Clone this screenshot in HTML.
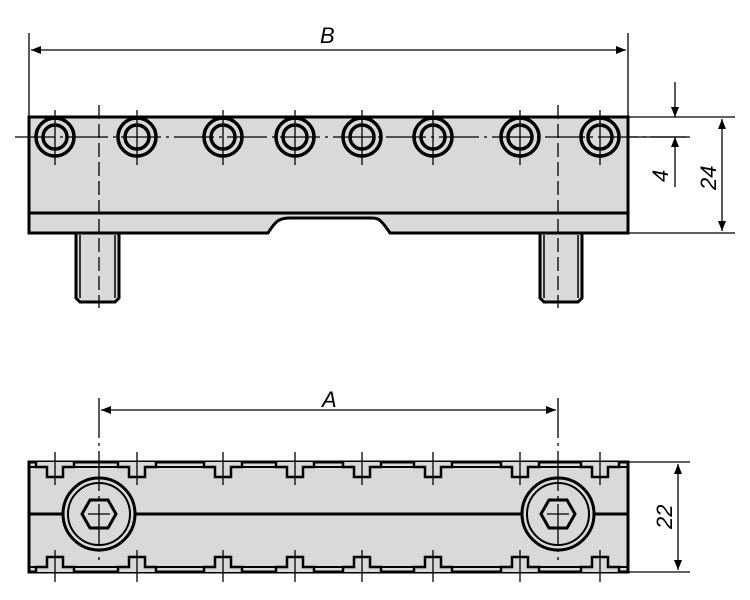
<!DOCTYPE html>
<html><head><style>body{margin:0;background:#fff}svg{display:block}text{font-family:"Liberation Sans",sans-serif;font-style:italic;font-size:22px;fill:#000}</style></head>
<body>
<svg width="750" height="600" viewBox="0 0 750 600" xmlns="http://www.w3.org/2000/svg">
<defs>
<marker id="ar" viewBox="0 0 10 10" refX="10" refY="5" markerWidth="14" markerHeight="10" markerUnits="userSpaceOnUse" orient="auto-start-reverse"><path d="M0,1 L10,5 L0,9z" fill="#000"/></marker>
<g id="slot" fill="#d9d9d9" stroke="#000" stroke-width="2.5">
<path d="M-19,462 V467 H-8 V477 H8 V467 H19 V462"/>
<path d="M-19,572 V567 H-8 V557 H8 V567 H19 V572"/>
</g>
</defs>
<!-- TOP VIEW -->
<g stroke="#000" stroke-width="3" fill="#d9d9d9">
<path d="M76,233 V298 L80,302 H115 L119,298 V233"/>
<path d="M540,233 V298 L544,302 H578 L582,298 V233"/>
</g>
<g stroke="#000" stroke-width="1.5">
<line x1="80" y1="235" x2="80" y2="298"/><line x1="115" y1="235" x2="115" y2="298"/>
<line x1="544" y1="235" x2="544" y2="298"/><line x1="578" y1="235" x2="578" y2="298"/>
</g>
<path d="M29,117 H628 V233 H390 C380,218 378,218 370,218 H290 C280,218 276,220 268,233 H29 Z" fill="#d9d9d9" stroke="#000" stroke-width="3"/>
<line x1="29" y1="213" x2="628" y2="213" stroke="#000" stroke-width="3"/>
<g fill="none" stroke="#000" stroke-width="3.5">
<circle cx="55" cy="137" r="19"/><circle cx="55" cy="137" r="12"/>
<circle cx="137" cy="137" r="19"/><circle cx="137" cy="137" r="12"/>
<circle cx="223" cy="137" r="19"/><circle cx="223" cy="137" r="12"/>
<circle cx="295" cy="137" r="19"/><circle cx="295" cy="137" r="12"/>
<circle cx="362" cy="137" r="19"/><circle cx="362" cy="137" r="12"/>
<circle cx="433" cy="137" r="19"/><circle cx="433" cy="137" r="12"/>
<circle cx="520" cy="137" r="19"/><circle cx="520" cy="137" r="12"/>
<circle cx="600" cy="137" r="19"/><circle cx="600" cy="137" r="12"/>
</g>
<g stroke="#000" stroke-width="1.3">
<line x1="15" y1="137" x2="690" y2="137" stroke-dasharray="40,5,3,5"/>
<line x1="55" y1="110" x2="55" y2="165"/><line x1="137" y1="110" x2="137" y2="165"/><line x1="223" y1="110" x2="223" y2="165"/><line x1="295" y1="110" x2="295" y2="165"/><line x1="362" y1="110" x2="362" y2="165"/><line x1="433" y1="110" x2="433" y2="165"/><line x1="520" y1="110" x2="520" y2="165"/><line x1="600" y1="110" x2="600" y2="165"/>
<line x1="99" y1="105" x2="99" y2="308" stroke-dasharray="14,5"/>
<line x1="558" y1="105" x2="558" y2="308" stroke-dasharray="14,5"/>
<line x1="29" y1="33" x2="29" y2="117"/><line x1="628" y1="33" x2="628" y2="117"/>
<line x1="31" y1="50" x2="626" y2="50" marker-start="url(#ar)" marker-end="url(#ar)"/>
<line x1="628" y1="117" x2="735" y2="117"/><line x1="628" y1="233" x2="735" y2="233"/>
<line x1="628" y1="137" x2="687" y2="137"/>
<line x1="675" y1="82" x2="675" y2="117" marker-end="url(#ar)"/>
<line x1="675" y1="187" x2="675" y2="137" marker-end="url(#ar)"/>
<line x1="722" y1="119" x2="722" y2="231" marker-start="url(#ar)" marker-end="url(#ar)"/>
</g>
<text x="320" y="43">B</text>
<text transform="translate(668,182) rotate(-90)">4</text>
<text transform="translate(716,190) rotate(-90)">24</text>

<!-- BOTTOM VIEW -->
<rect x="29" y="462" width="599" height="110" fill="#d9d9d9" stroke="#000" stroke-width="3"/>
<g stroke="#000" stroke-width="2" fill="none">
<line x1="29" y1="467" x2="628" y2="467"/><line x1="29" y1="567" x2="628" y2="567"/>
</g>
<line x1="29" y1="514" x2="628" y2="514" stroke="#000" stroke-width="3"/>
<use href="#slot" x="55"/><use href="#slot" x="137"/><use href="#slot" x="223"/><use href="#slot" x="295"/>
<use href="#slot" x="362"/><use href="#slot" x="433"/><use href="#slot" x="520"/><use href="#slot" x="600"/>
<g fill="#d9d9d9" stroke="#000">
<circle cx="99" cy="514" r="36" stroke-width="3"/><circle cx="99" cy="514" r="31" stroke-width="2"/>
<circle cx="558" cy="514" r="36" stroke-width="3"/><circle cx="558" cy="514" r="31" stroke-width="2"/>
<path d="M82,514 L90,500 H108 L116,514 L108,528 H90 Z" stroke-width="3"/>
<path d="M541,514 L549,500 H567 L575,514 L567,528 H549 Z" stroke-width="3"/>
</g>
<g stroke="#000" stroke-width="1.3">
<line x1="55" y1="452" x2="55" y2="485"/><line x1="55" y1="550" x2="55" y2="582"/>
<line x1="137" y1="452" x2="137" y2="485"/><line x1="137" y1="550" x2="137" y2="582"/>
<line x1="223" y1="452" x2="223" y2="485"/><line x1="223" y1="550" x2="223" y2="582"/>
<line x1="295" y1="452" x2="295" y2="485"/><line x1="295" y1="550" x2="295" y2="582"/>
<line x1="362" y1="452" x2="362" y2="485"/><line x1="362" y1="550" x2="362" y2="582"/>
<line x1="433" y1="452" x2="433" y2="485"/><line x1="433" y1="550" x2="433" y2="582"/>
<line x1="520" y1="452" x2="520" y2="485"/><line x1="520" y1="550" x2="520" y2="582"/>
<line x1="600" y1="452" x2="600" y2="485"/><line x1="600" y1="550" x2="600" y2="582"/>
<line x1="99" y1="398" x2="99" y2="560" stroke-dasharray="40,5,3,5"/>
<line x1="558" y1="398" x2="558" y2="560" stroke-dasharray="40,5,3,5"/>
<line x1="88" y1="514" x2="110" y2="514"/><line x1="547" y1="514" x2="569" y2="514"/>
<line x1="101" y1="410" x2="556" y2="410" marker-start="url(#ar)" marker-end="url(#ar)"/>
<line x1="628" y1="462" x2="690" y2="462"/><line x1="628" y1="572" x2="690" y2="572"/>
<line x1="678" y1="464" x2="678" y2="570" marker-start="url(#ar)" marker-end="url(#ar)"/>
</g>
<text x="322" y="407">A</text>
<text transform="translate(672,529) rotate(-90)">22</text>
</svg>
</body></html>
